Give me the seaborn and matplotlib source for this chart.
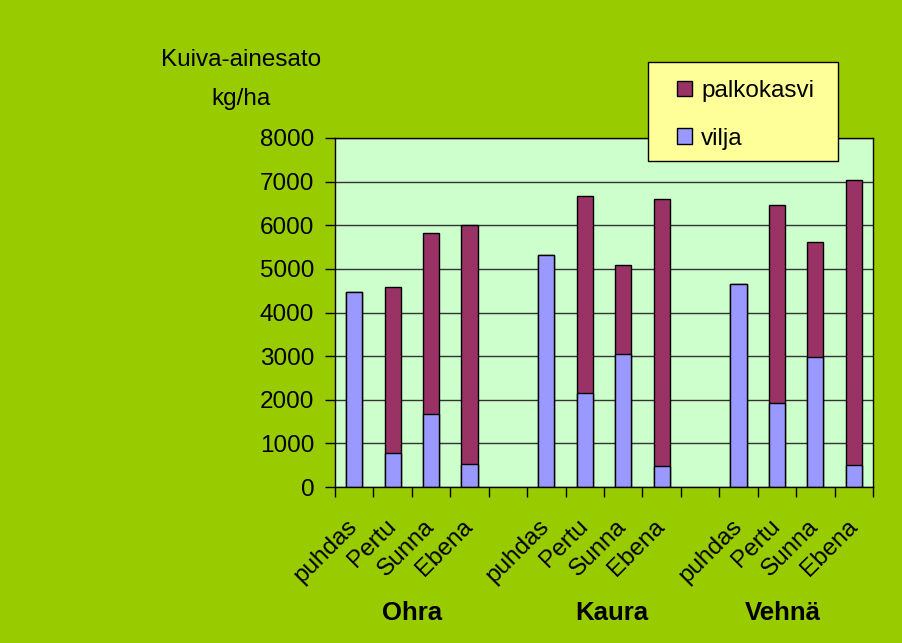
import numpy as np
import pandas as pd
import matplotlib
matplotlib.use('Agg')
import matplotlib.pyplot as plt
from matplotlib.patches import Rectangle
import seaborn as sns

# Data (kg/ha)
groups = ['Ohra', 'Kaura', 'Vehnä']
varieties = ['puhdas', 'Pertu', 'Sunna', 'Ebena']
vilja = {
    'Ohra': [4470, 775, 1680, 520],
    'Kaura': [5320, 2165, 3045, 470],
    'Vehnä': [4650, 1935, 2970, 505],
}
palkokasvi = {
    'Ohra': [0, 3815, 4150, 5490],
    'Kaura': [0, 4505, 2050, 6125],
    'Vehnä': [0, 4520, 2645, 6535],
}
yticks = [0, 1000, 2000, 3000, 4000, 5000, 6000, 7000, 8000]

col_vilja = '#9999FF'
col_palko = '#993366'

# build long table + slot order (empty slot between groups)
rows = []
order = []
tick_labels = []
for gi, g in enumerate(groups):
    for vi, v in enumerate(varieties):
        key = g + '|' + v
        order.append(key)
        tick_labels.append(v)
        rows.append({'slot': key, 'vilja': vilja[g][vi],
                     'total': vilja[g][vi] + palkokasvi[g][vi]})
    if gi < len(groups) - 1:
        order.append('gap%d' % gi)
        tick_labels.append('')
df = pd.DataFrame(rows)

sns.set_style('white')
plt.rcParams['font.family'] = ['Liberation Sans', 'DejaVu Sans']
plt.rcParams['text.color'] = 'black'
plt.rcParams['xtick.labelcolor'] = 'black'
plt.rcParams['ytick.labelcolor'] = 'black'

fs = 17.5

fig = plt.figure(figsize=(9.02, 6.43), dpi=100, facecolor='#99CC00')
ax = fig.add_axes([335 / 902, 1 - 487 / 643, 538 / 902, 349 / 643])
ax.set_facecolor('#CCFFCC')

sns.barplot(data=df, x='slot', y='total', order=order, color=col_palko,
            saturation=1, width=0.42, edgecolor='black', linewidth=1, ax=ax)
sns.barplot(data=df, x='slot', y='vilja', order=order, color=col_vilja,
            saturation=1, width=0.42, edgecolor='black', linewidth=1, ax=ax)

ax.set_ylim(0, 8000)
ax.set_xlim(-0.5, len(order) - 0.5)
ax.set_yticks(yticks)
ax.set_yticklabels([str(t) for t in yticks], fontsize=fs)
ax.yaxis.grid(True, color='#333333', linewidth=1)
ax.set_axisbelow(True)
ax.set_xlabel('')
ax.set_ylabel('')

# ticks at slot boundaries, labels at slot centres
ax.set_xticks(np.arange(-0.5, len(order), 1))
ax.set_xticklabels([''] * (len(order) + 1))
ax.set_xticks(np.arange(len(order)), minor=True)
ax.set_xticklabels(tick_labels, minor=True, fontsize=fs, rotation=45,
                   ha='right', va='center', rotation_mode='anchor')
ax.tick_params(axis='x', which='major', direction='out', length=7, width=1,
               color='black', bottom=True)
ax.tick_params(axis='x', which='minor', length=0, pad=26)
ax.tick_params(axis='y', direction='out', length=7, width=1, color='black',
               left=True, pad=8)
for s in ax.spines.values():
    s.set_color('black')
    s.set_linewidth(1)

# group names under the variety labels
for g, xpos in zip(groups, [1.5, 6.7, 11.15]):
    ax.text(xpos, -0.36, g, transform=ax.get_xaxis_transform(), ha='center',
            va='center', fontsize=18.5, fontweight='bold')

# axis title, two lines
fig.text(241 / 902, 1 - 66 / 643, 'Kuiva-ainesato', ha='center',
         va='baseline', fontsize=fs)
fig.text(241 / 902, 1 - 105 / 643, 'kg/ha', ha='center',
         va='baseline', fontsize=fs)

# legend: yellow box drawn separately, entries placed inside
fig.add_artist(Rectangle((648 / 902, 1 - 161 / 643), 190 / 902, 99 / 643,
                         transform=fig.transFigure, facecolor='#FFFF99',
                         edgecolor='black', linewidth=1, zorder=4))
handles = [Rectangle((0, 0), 1, 1, facecolor=col_palko, edgecolor='black'),
           Rectangle((0, 0), 1, 1, facecolor=col_vilja, edgecolor='black')]
leg = fig.legend(handles, ['palkokasvi', 'vilja'], loc='upper left',
                 bbox_to_anchor=(677 / 902, 1 - 80 / 643),
                 fontsize=fs, frameon=False, borderpad=0,
                 labelspacing=1.05, handlelength=0.62, handleheight=0.62,
                 handletextpad=0.37, borderaxespad=0)
leg.set_zorder(5)

fig.savefig('out.png', dpi=100, facecolor=fig.get_facecolor())
